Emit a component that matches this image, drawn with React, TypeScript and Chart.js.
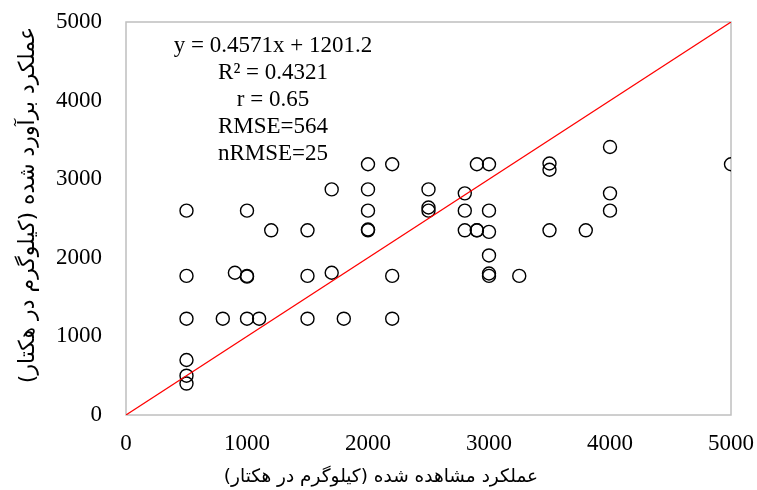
import React, { useEffect, useRef } from "react";
import { Chart, registerables } from "chart.js";

Chart.register(...registerables);

// Observed yield (x) and estimated yield (y), kg/ha
const observed = [
  500, 500, 500, 500, 500, 500,
  800,
  900,
  1000, 1000, 1000, 1000,
  1100,
  1200,
  1500, 1500, 1500,
  1700, 1700,
  1800,
  2000, 2000, 2000, 2000, 2000,
  2200, 2200, 2200,
  2500, 2500, 2500,
  2800, 2800, 2800,
  2900, 2900, 2900,
  3000, 3000, 3000, 3000, 3000, 3000,
  3250,
  3500, 3500, 3500,
  3800,
  4000, 4000, 4000,
  5000,
];
const estimated = [
  2600, 1770, 1225, 700, 500, 400,
  1225,
  1810,
  2600, 1770, 1760, 1225,
  1225,
  2350,
  2350, 1770, 1225,
  2870, 1810,
  1225,
  3190, 2870, 2600, 2350, 2360,
  3190, 1770, 1225,
  2870, 2640, 2600,
  2820, 2600, 2350,
  3190, 2350, 2350,
  3190, 2600, 2330, 2030, 1800, 1770,
  1770,
  3200, 3120, 2350,
  2350,
  3410, 2820, 2600,
  3190,
];
const oneToOneLine = [0, 5000];
const axisMin = 0;
const axisMax = 5000;
const tickStep = 1000;

const annotationLines = [
  "y = 0.4571x + 1201.2",
  "R² = 0.4321",
  "r = 0.65",
  "RMSE=564",
  "nRMSE=25",
];
const annotationAnchor = { x: 1215, y: 4695 };

const xTitle = "عملکرد مشاهده شده (کیلوگرم در هکتار)";
const yTitle = "عملکرد برآورد شده (کیلوگرم در هکتار)";

const SERIF = '"Liberation Serif", "Times New Roman", serif';
const ARABIC = '"DejaVu Sans", "Noto Sans", sans-serif';

const customPlugin = {
  id: "customDecor",
  beforeDatasetsDraw(chart: any) {
    const { ctx, chartArea: a } = chart;
    ctx.save();
    ctx.strokeStyle = "#BFBFBF";
    ctx.lineWidth = 1.5;
    ctx.strokeRect(a.left, a.top, a.right - a.left, a.bottom - a.top);
    ctx.restore();
  },
  afterDraw(chart: any) {
    const { ctx } = chart;
    const xs = chart.scales.x;
    const ys = chart.scales.y;
    ctx.save();
    ctx.fillStyle = "#000000";
    ctx.font = `23px ${SERIF}`;
    ctx.textAlign = "center";
    ctx.textBaseline = "middle";
    const cx = xs.getPixelForValue(annotationAnchor.x);
    const cy = ys.getPixelForValue(annotationAnchor.y);
    annotationLines.forEach((line, i) => {
      ctx.fillText(line, cx, cy + i * 27);
    });
    ctx.restore();

    // X axis title
    ctx.save();
    ctx.fillStyle = "#000000";
    ctx.font = `18.5px ${ARABIC}`;
    ctx.direction = "rtl";
    ctx.textAlign = "center";
    ctx.textBaseline = "middle";
    ctx.fillText(xTitle, 381, 477);
    ctx.restore();

    // Y axis title
    ctx.save();
    ctx.fillStyle = "#000000";
    ctx.font = `22px ${ARABIC}`;
    ctx.direction = "rtl";
    ctx.textAlign = "center";
    ctx.textBaseline = "middle";
    ctx.translate(28, 205);
    ctx.rotate(-Math.PI / 2);
    ctx.fillText(yTitle, 0, 0);
    ctx.restore();
  },
};

export default function App() {
  const ref = useRef<HTMLCanvasElement | null>(null);

  useEffect(() => {
    if (!ref.current) return;
    const points = observed.map((x, i) => ({ x, y: estimated[i] }));
    const line = oneToOneLine.map((v) => ({ x: v, y: v }));
    const tickFont = { family: SERIF, size: 23 };
    const fmt = (v: any) => String(v);
    const chart = new Chart(ref.current, {
      type: "scatter",
      data: {
        datasets: [
          {
            type: "line",
            label: "1:1",
            data: line,
            borderColor: "#FF0000",
            borderWidth: 1.2,
            pointRadius: 0,
            fill: false,
          } as any,
          {
            label: "points",
            data: points,
            pointStyle: "circle",
            pointRadius: 6.5,
            pointBorderWidth: 1.4,
            borderColor: "#000000",
            backgroundColor: "rgba(0,0,0,0)",
          },
        ],
      },
      options: {
        responsive: false,
        animation: false,
        layout: { padding: { top: 22, right: 26, left: 0, bottom: 0 } },
        plugins: {
          legend: { display: false },
          tooltip: { enabled: false },
          title: { display: false },
        },
        scales: {
          x: {
            type: "linear",
            min: axisMin,
            max: axisMax,
            grid: { display: false, drawTicks: false },
            border: { display: false },
            ticks: {
              stepSize: tickStep,
              color: "#000000",
              font: tickFont,
              padding: 15,
              maxRotation: 0,
              callback: fmt,
            },
            afterFit: (s: any) => {
              s.height = 75;
              s.paddingLeft = 0;
              s.paddingRight = 0;
              s.paddingTop = 0;
              s.paddingBottom = 0;
            },
          },
          y: {
            type: "linear",
            min: axisMin,
            max: axisMax,
            grid: { display: false, drawTicks: false },
            border: { display: false },
            ticks: {
              stepSize: tickStep,
              color: "#000000",
              font: tickFont,
              padding: 24,
              callback: fmt,
            },
            afterFit: (s: any) => {
              s.width = 126;
              s.paddingLeft = 0;
              s.paddingRight = 0;
              s.paddingTop = 0;
              s.paddingBottom = 0;
            },
          },
        },
      },
      plugins: [customPlugin],
    });
    return () => chart.destroy();
  }, []);

  return (
    <div style={{ position: "absolute", left: 0, top: 0, width: 757, height: 490, background: "#ffffff" }}>
      <canvas ref={ref} width={757} height={490} style={{ display: "block" }} />
    </div>
  );
}
